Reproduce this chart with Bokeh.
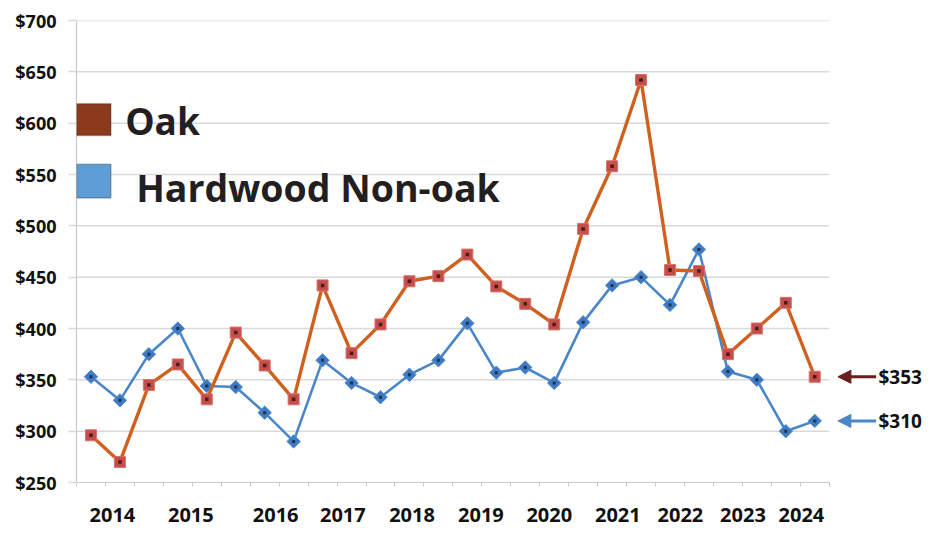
import math
from bokeh.plotting import figure
from bokeh.models import (ColumnDataSource, FixedTicker, NumeralTickFormatter, Range1d,
                          Label, Arrow, NormalHead, BoxAnnotation)
from bokeh.embed import file_html
from bokeh.resources import INLINE

# Quarterly stumpage prices, $ per MBF
oak = [296, 270, 345, 365, 331, 396, 364, 331, 442, 376, 404, 446, 451, 472,
       441, 424, 404, 497, 558, 642, 457, 456, 375, 400, 425, 353]
non_oak = [353, 330, 375, 400, 344, 343, 318, 290, 369, 347, 333, 355, 369, 405,
           357, 362, 347, 406, 442, 450, 423, 477, 358, 350, 300, 310]
years = ["2014", "2015", "2016", "2017", "2018", "2019", "2020", "2021", "2022", "2023", "2024"]
year_positions = [0.74, 3.45, 6.38, 8.70, 11.09, 13.47, 15.83, 18.20, 20.36, 22.52, 24.54]
y_ticks = [250, 300, 350, 400, 450, 500, 550, 600, 650, 700]

idx = list(range(len(oak)))
n = len(oak)
src = ColumnDataSource(dict(x=idx, oak=oak, non_oak=non_oak))

FONT = "Open Sans"
GRID = "#D9D9D9"
AXIS = "#CFC6C6"

p = figure(width=937, height=537, output_backend="svg", toolbar_location=None,
           x_range=Range1d(-0.5, 29.24), y_range=Range1d(250, 700),
           min_border_left=76, min_border_right=0, min_border_top=20, min_border_bottom=55)
p.outline_line_color = None
p.xgrid.visible = False
p.ygrid.visible = False
p.background_fill_color = "white"
p.border_fill_color = "white"

# horizontal gridlines across the category span only
p.segment(x0=-0.5, x1=n - 0.5, y0=y_ticks[1:], y1=y_ticks[1:], line_color=GRID, line_width=1.5)

# y axis
p.yaxis.ticker = FixedTicker(ticks=y_ticks)
p.yaxis.formatter = NumeralTickFormatter(format="$0")
p.yaxis.axis_line_color = AXIS
p.yaxis.axis_line_width = 1.2
p.yaxis.major_tick_line_color = GRID
p.yaxis.major_tick_line_width = 1.5
p.yaxis.major_tick_out = 8
p.yaxis.major_tick_in = 0
p.yaxis.minor_tick_line_color = None
p.yaxis.major_label_standoff = 12
p.yaxis.major_label_text_font = FONT
p.yaxis.major_label_text_font_style = "bold"
p.yaxis.major_label_text_font_size = "18px"
p.yaxis.major_label_text_color = "#111111"

# x axis: year labels plus small boundary ticks between quarters
p.xaxis.ticker = FixedTicker(ticks=year_positions,
                             minor_ticks=[i - 0.5 for i in range(n + 1)])
p.xaxis.major_label_overrides = {pos: yr for pos, yr in zip(year_positions, years)}
p.xaxis.bounds = (-0.5, n - 0.5)
p.xaxis.axis_line_color = AXIS
p.xaxis.axis_line_width = 1.2
p.xaxis.major_tick_line_color = None
p.xaxis.major_tick_out = 0
p.xaxis.major_tick_in = 0
p.xaxis.minor_tick_line_color = AXIS
p.xaxis.minor_tick_out = 4
p.xaxis.minor_tick_in = 0
p.xaxis.major_label_standoff = 21
p.xaxis.major_label_text_font = FONT
p.xaxis.major_label_text_font_style = "bold"
p.xaxis.major_label_text_font_size = "20px"
p.xaxis.major_label_text_color = "#111111"

# Hardwood non-oak series
p.line("x", "non_oak", source=src, line_color="#4A86C8", line_width=2.6)
p.scatter("x", "non_oak", source=src, marker="square", size=9.5, angle=math.pi / 4,
          fill_color="#3D7AC2", line_color="#5A90CF", line_width=1)
p.scatter("x", "non_oak", source=src, marker="square", size=3,
          fill_color="#1E3350", line_color=None)

# Oak series
p.line("x", "oak", source=src, line_color="#D0601E", line_width=3.4)
p.scatter("x", "oak", source=src, marker="square", size=11,
          fill_color="#C44E4A", line_color="#D9706A", line_width=1)
p.scatter("x", "oak", source=src, marker="square", size=3.5,
          fill_color="#4E1A1A", line_color=None)

# legend swatches and labels
p.add_layout(BoxAnnotation(left=-0.5, right=0.69, bottom=588, top=619,
                           fill_color="#8B3B1C", fill_alpha=1,
                           line_color="#2A1A14", line_width=1.5))
p.add_layout(BoxAnnotation(left=-0.5, right=0.69, bottom=527, top=560,
                           fill_color="#5E9DD6", fill_alpha=1,
                           line_color="#2A2A2A", line_width=1.5))
p.add_layout(Label(x=1.18, y=603, text="Oak", text_font=FONT,
                   text_font_style="bold", text_font_size="37px",
                   text_color="#231F20", text_baseline="middle"))
p.add_layout(Label(x=1.56, y=537, text="Hardwood Non-oak", text_font=FONT,
                   text_font_style="bold", text_font_size="37.5px",
                   text_color="#231F20", text_baseline="middle"))

# latest-value callouts
last = n - 1
for val, col in ((oak[-1], "#6B1E1E"), (non_oak[-1], "#4A86C8")):
    p.add_layout(Arrow(x_start=last + 2.12, x_end=last + 0.8, y_start=val, y_end=val,
                       line_color=col, line_width=3,
                       end=NormalHead(size=13, fill_color=col, line_color=col)))
    p.add_layout(Label(x=last + 2.2, y=val, text=f"${val}", text_font=FONT,
                       text_font_style="bold", text_font_size="19px",
                       text_color="#111111", text_baseline="middle"))

open("out.html", "w").write(file_html(p, INLINE))
